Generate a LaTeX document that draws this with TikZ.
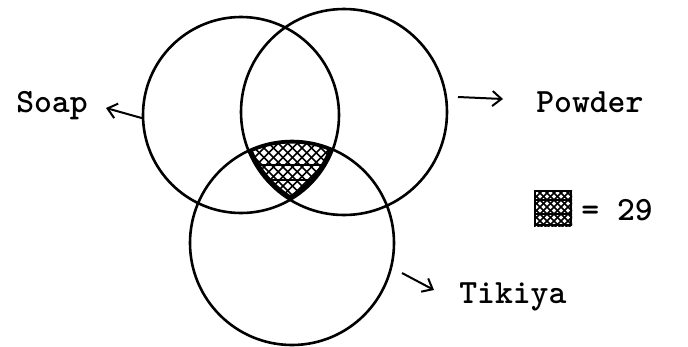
\documentclass[tikz,border=0pt]{standalone}
\usetikzlibrary{arrows.meta}
\begin{document}
\begin{tikzpicture}[x=1pt,y=-1pt,line width=2.6pt,
  ring/.style={circle,draw,inner sep=0pt,outer sep=0pt,line width=2.6pt},
  arr/.style={line width=2pt,-{Straight Barb[length=9pt,width=15pt,line width=2pt]}},
  lbl/.style={font=\fontsize{34}{40}\selectfont\ttfamily\bfseries,inner sep=0pt,anchor=base west},
  hatch/.style={line width=1.6pt}]
\useasboundingbox (0,0) rectangle (688,346);
% circles
\node[ring,minimum size=196pt] (soap) at (241,115) {};
\node[ring,minimum size=206pt] (powder) at (344,112) {};
\node[ring,minimum size=204pt] (tikiya) at (292,243) {};
% hatched triple intersection
\begin{scope}
  \clip (241,115) circle[radius=98];
  \clip (344,112) circle[radius=103];
  \clip (292,243) circle[radius=102];
  \foreach \k in {0,...,35} {
    \draw[hatch] (150+\k*9.5,110) -- ++(120,120);
    \draw[hatch] (150+\k*9.5,110) -- ++(-120,120);
  }
  \draw[hatch] (240,165) -- (345,165);
  \draw[hatch] (240,180) -- (345,180);
  \draw[line width=8pt] (241,115) circle[radius=98];
  \draw[line width=8pt] (344,112) circle[radius=103];
  \draw[line width=5pt] (292,243) circle[radius=102];
\end{scope}
% labels and arrows
\node[lbl] (tsoap) at (15,112) {Soap};
\node[lbl] (tpowder) at (535,112) {Powder};
\node[lbl] (ttikiya) at (458,303) {Tikiya};
\coordinate (sa) at (106,108);
\coordinate (pa1) at (458,97);
\coordinate (pa2) at (503,99);
\coordinate (ta1) at (402,273);
\coordinate (ta2) at (434,290);
\draw[arr] (soap.182) -- (sa);
\draw[arr] (pa1) -- (pa2);
\draw[arr] (ta1) -- (ta2);
% legend
\node[draw,line width=2pt,minimum width=36pt,minimum height=34pt,inner sep=0pt] (key) at (553,208) {};
\begin{scope}
  \clip (key.south west) rectangle (key.north east);
  \foreach \k in {0,...,14} {
    \draw[hatch] (490+\k*7,185) -- ++(50,50);
    \draw[hatch] (520+\k*7,185) -- ++(-50,50);
  }
  \draw[hatch] (530,200) -- (580,200);
  \draw[hatch] (530,214) -- (580,214);
\end{scope}
\node[lbl] (val) at (580,220) {= 29};
\end{tikzpicture}
\end{document}
